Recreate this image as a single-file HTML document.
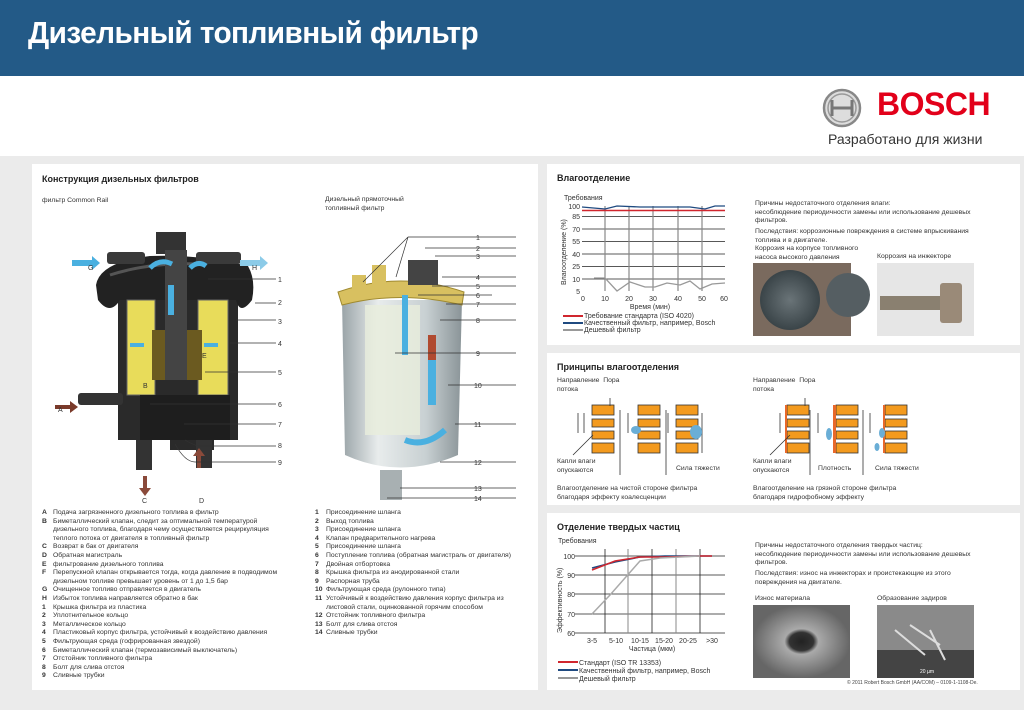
<!DOCTYPE html>
<html><head><meta charset="utf-8"><style>
*{margin:0;padding:0;box-sizing:border-box}
body{width:1024px;height:710px;overflow:hidden;background:#ebebeb;font-family:"Liberation Sans",sans-serif;position:relative;color:#333}
.a{position:absolute;white-space:nowrap}
.t{font-size:6.8px;line-height:8.6px;color:#333}
.h{font-weight:bold;font-size:9px;color:#222}
.p{position:absolute;background:#fff}
</style></head><body>
<div class="p" style="left:0;top:0;width:1024px;height:76px;background:#235a87"></div>
<div class="a" style="left:28px;top:15px;font-size:31px;font-weight:bold;color:#fff;letter-spacing:-0.6px;transform:scaleX(0.96);transform-origin:left">Дизельный топливный фильтр</div>
<div class="p" style="left:0;top:76px;width:1024px;height:80px"></div>
<svg class="a" style="left:822px;top:88px" width="40" height="40" viewBox="0 0 40 40"><circle cx="20" cy="20" r="18" fill="#ddd" stroke="#888" stroke-width="2.5"/><circle cx="20" cy="20" r="14" fill="none" stroke="#999" stroke-width="1.5"/><path d="M10 12v16M30 12v16M10 20h20" stroke="#777" stroke-width="3" fill="none"/></svg>
<div class="a" style="left:877px;top:86px;font-size:32px;font-weight:bold;color:#e2001a;letter-spacing:-0.5px">BOSCH</div>
<div class="a" style="left:828px;top:131px;font-size:14px;color:#333">Разработано для жизни</div>

<div class="p" style="left:32px;top:164px;width:506px;height:526px"></div>
<div class="a h" style="left:42px;top:174px">Конструкция дизельных фильтров</div>
<div class="a t" style="left:42px;top:197px">фильтр Common Rail</div>
<div class="a t" style="left:325px;top:196px">Дизельный прямоточный<br>топливный фильтр</div>

<svg class="a" style="left:32px;top:220px" width="506" height="290" viewBox="32 220 506 290">
<path d="M118 300 L238 300 L238 440 L214 440 L214 450 L170 450 L170 440 L118 440Z" fill="#2a2a2a"/>
<path d="M96 285 Q100 262 150 256 Q200 254 248 266 Q256 280 252 300 Q240 316 236 300 L120 300 Q110 316 98 300Z" fill="#222"/>
<path d="M110 275 Q150 262 200 264" stroke="#555" stroke-width="3" fill="none"/>
<rect x="156" y="232" width="30" height="22" fill="#333"/>
<rect x="107" y="252" width="38" height="12" rx="3" fill="#3a3a3a"/>
<rect x="196" y="252" width="45" height="12" rx="3" fill="#3a3a3a"/>
<rect x="78" y="393" width="45" height="12" rx="3" fill="#333"/>
<rect x="127" y="300" width="28" height="95" fill="#e8dc5a" stroke="#666"/>
<rect x="198" y="300" width="30" height="95" fill="#e8dc5a" stroke="#666"/>
<rect x="152" y="330" width="50" height="50" fill="#6b5a20"/>
<rect x="165" y="250" width="22" height="130" fill="#444"/>
<rect x="140" y="395" width="90" height="45" fill="#1e1e1e"/>
<rect x="136" y="440" width="16" height="30" fill="#333"/>
<rect x="196" y="440" width="16" height="28" fill="#333"/>
<path d="M72 260h20v-4l8 7-8 7v-4h-20z" fill="#4ab0e0"/>
<path d="M240 260h20v-4l8 7-8 7v-4h-20z" fill="#8ccbe8"/>
<path d="M55 405h15v-4l8 6-8 6v-4h-15z" fill="#7a3a2a"/>
<path d="M143 476v12h-4l6 8 6-8h-4v-12z" fill="#8a4a3a"/>
<path d="M197 468v-12h-4l6-8 6 8h-4v12z" fill="#8a4a3a"/>
<rect x="168" y="285" width="6" height="30" fill="#4ab0e0"/>
<path d="M150 268q10-10 22-4" stroke="#4ab0e0" stroke-width="5" fill="none"/>
<path d="M190 268q8-8 16-2" stroke="#4ab0e0" stroke-width="5" fill="none"/>
<path d="M130 345h14M218 345h-14" stroke="#4ab0e0" stroke-width="4"/>
<g font-size="7" fill="#333"><text x="88" y="270">G</text><text x="252" y="270">H</text><text x="58" y="412">A</text><text x="142" y="503">C</text><text x="199" y="503">D</text><text x="143" y="388">B</text><text x="202" y="358">E</text></g>
<g stroke="#333" stroke-width="0.7" fill="none"><path d="M208 279h68M255 303h21M236 320h40M230 343h46M205 372h71M150 404h126M184 424h92M185 440q10 6 15 6h76M175 444q10 18 20 18h81"/></g>
<g font-size="7" fill="#333"><text x="278" y="282">1</text><text x="278" y="305">2</text><text x="278" y="324">3</text><text x="278" y="346">4</text><text x="278" y="375">5</text><text x="278" y="407">6</text><text x="278" y="427">7</text><text x="278" y="448">8</text><text x="278" y="465">9</text></g>
<defs><linearGradient id="cy" x1="0" x2="1"><stop offset="0" stop-color="#9aa4a8"/><stop offset="0.3" stop-color="#e8ecec"/><stop offset="0.7" stop-color="#c8d0d2"/><stop offset="1" stop-color="#8a9498"/></linearGradient></defs>
<path d="M342 300 L345 455 Q400 480 458 455 L462 300Z" fill="url(#cy)"/>
<path d="M338 292 Q400 270 464 292 L462 305 Q400 290 342 305Z" fill="#d8c060" stroke="#a08a30"/>
<rect x="365" y="305" width="55" height="130" fill="#e8eedc" opacity="0.8"/>
<rect x="402" y="295" width="6" height="60" fill="#4ab0e0"/>
<rect x="428" y="335" width="8" height="55" fill="#b04a30"/>
<rect x="428" y="360" width="8" height="45" fill="#4ab0e0"/>
<path d="M405 440q20 8 40-10" stroke="#4ab0e0" stroke-width="6" fill="none"/>
<rect x="408" y="260" width="30" height="25" fill="#444"/>
<rect x="372" y="265" width="14" height="30" fill="#d8c060"/>
<rect x="352" y="275" width="14" height="20" fill="#d8c060"/>
<rect x="380" y="470" width="22" height="30" fill="#a8b0b2"/>
<g stroke="#333" stroke-width="0.7" fill="none"><path d="M408 237h108M408 237l-45 45M408 237l-12 40M425 248h91M435 256h81M442 277h74M432 286h84M418 295h74M446 304h70M440 320h76M395 353h121M448 385h68M455 424h61M440 462h76M400 488h116M387 498h129"/></g>
<g font-size="7" fill="#333"><text x="476" y="240">1</text><text x="476" y="251">2</text><text x="476" y="259">3</text><text x="476" y="280">4</text><text x="476" y="289">5</text><text x="476" y="298">6</text><text x="476" y="307">7</text><text x="476" y="323">8</text><text x="476" y="356">9</text><text x="474" y="388">10</text><text x="474" y="427">11</text><text x="474" y="465">12</text><text x="474" y="491">13</text><text x="474" y="501">14</text></g>
</svg>

<div class="a t" style="left:42px;top:509px"><b>A</b><br><b>B</b><br><br><br><b>C</b><br><b>D</b><br><b>E</b><br><b>F</b><br><br><b>G</b><br><b>H</b><br><b>1</b><br><b>2</b><br><b>3</b><br><b>4</b><br><b>5</b><br><b>6</b><br><b>7</b><br><b>8</b><br><b>9</b></div>
<div class="a t" style="left:53px;top:509px">Подача загрязненного дизельного топлива в фильтр<br>Биметаллический клапан, следит за оптимальной температурой<br>дизельного топлива, благодаря чему осуществляется рециркуляция<br>теплого потока от двигателя в топливный фильтр<br>Возврат в бак от двигателя<br>Обратная магистраль<br>фильтрование дизельного топлива<br>Перепускной клапан открывается тогда, когда давление в подводимом<br>дизельном топливе превышает уровень от 1 до 1,5 бар<br>Очищенное топливо отправляется в двигатель<br>Избыток топлива направляется обратно в бак<br>Крышка фильтра из пластика<br>Уплотнительное кольцо<br>Металлическое кольцо<br>Пластиковый корпус фильтра, устойчивый к воздействию давления<br>Фильтрующая среда (гофрированная звездой)<br>Биметаллический клапан (термозависимый выключатель)<br>Отстойник топливного фильтра<br>Болт для слива отстоя<br>Сливные трубки</div>
<div class="a t" style="left:315px;top:509px"><b>1</b><br><b>2</b><br><b>3</b><br><b>4</b><br><b>5</b><br><b>6</b><br><b>7</b><br><b>8</b><br><b>9</b><br><b>10</b><br><b>11</b><br><br><b>12</b><br><b>13</b><br><b>14</b></div>
<div class="a t" style="left:326px;top:509px">Присоединение шланга<br>Выход топлива<br>Присоединение шланга<br>Клапан предварительного нагрева<br>Присоединение шланга<br>Поступление топлива (обратная магистраль от двигателя)<br>Двойная отбортовка<br>Крышка фильтра из анодированной стали<br>Распорная труба<br>Фильтрующая среда (рулонного типа)<br>Устойчивый к воздействию давления корпус фильтра из<br>листовой стали, оцинкованной горячим способом<br>Отстойник топливного фильтра<br>Болт для слива отстоя<br>Сливные трубки</div>

<div class="p" style="left:547px;top:164px;width:473px;height:181px"></div>
<div class="a h" style="left:557px;top:173px">Влагоотделение</div>
<svg class="a" style="left:547px;top:164px" width="473" height="181" viewBox="547 164 473 181">
<text x="564" y="200" font-size="7" fill="#333">Требования</text>
<g stroke="#222" stroke-width="0.8"><path d="M582 216.5h143M582 229h143M582 241.5h143M582 254h143M582 266.5h143M582 279h143"/></g>
<g stroke="#888" stroke-width="1.2"><path d="M605 206v85M629 206v85M653 206v85M678 206v85M702 206v85"/></g>
<path d="M582 210.5h143" stroke="#d0262e" stroke-width="1.5"/>
<path d="M582 207 L605 209 L617 206 L640 207 L665 207 L690 207 L705 209 L715 206 L725 206" stroke="#1f4a80" stroke-width="1.3" fill="none"/>
<path d="M594 278 L605 278 L617 291 L630 282 L645 287 L655 287 L667 283 L680 285 L690 281 L700 289 L712 284 L725 283" stroke="#999" stroke-width="1.3" fill="none"/>
<g font-size="7" fill="#333" text-anchor="end"><text x="580" y="209">100</text><text x="580" y="219">85</text><text x="580" y="232">70</text><text x="580" y="244">55</text><text x="580" y="257">40</text><text x="580" y="269">25</text><text x="580" y="282">10</text><text x="580" y="294">5</text></g>
<g font-size="7" fill="#333" text-anchor="middle"><text x="583" y="301">0</text><text x="605" y="301">10</text><text x="629" y="301">20</text><text x="653" y="301">30</text><text x="678" y="301">40</text><text x="702" y="301">50</text><text x="724" y="301">60</text><text x="650" y="309">Время (мин)</text></g>
<text x="566" y="285" font-size="7" fill="#333" transform="rotate(-90 566 285)">Влагоотделение (%)</text>
<path d="M563 316h20" stroke="#d0262e" stroke-width="2"/><path d="M563 323h20" stroke="#1f4a80" stroke-width="2"/><path d="M563 330h20" stroke="#999" stroke-width="2"/>
<g font-size="7" fill="#333"><text x="584" y="318">Требование стандарта (ISO 4020)</text><text x="584" y="325">Качественный фильтр, например, Bosch</text><text x="584" y="332">Дешевый фильтр</text></g>
<defs><radialGradient id="m1"><stop offset="0" stop-color="#6a7478"/><stop offset="1" stop-color="#3a4448"/></radialGradient></defs>
<rect x="753" y="263" width="98" height="73" fill="#7a6a5e"/>
<circle cx="790" cy="300" r="30" fill="url(#m1)"/><circle cx="848" cy="295" r="22" fill="#555e62"/>
<rect x="877" y="263" width="97" height="73" fill="#e6e6e6"/>
<rect x="880" y="296" width="60" height="14" fill="#8a8070"/><rect x="940" y="283" width="22" height="40" rx="3" fill="#9a8a78"/>
</svg>
<div class="a t" style="left:755px;top:200px">Причины недостаточного отделения влаги:<br>несоблюдение периодичности замены или использование дешевых<br>фильтров.</div>
<div class="a t" style="left:755px;top:228px">Последствия: коррозионные повреждения в системе впрыскивания<br>топлива и в двигателе.</div>
<div class="a t" style="left:755px;top:245px">Коррозия на корпусе топливного<br>насоса высокого давления</div>
<div class="a t" style="left:877px;top:253px">Коррозия на инжекторе</div>

<div class="p" style="left:547px;top:353px;width:473px;height:152px"></div>
<div class="a h" style="left:557px;top:362px">Принципы влагоотделения</div>
<div class="a t" style="left:557px;top:377px">Направление&nbsp; Пора<br>потока</div>
<div class="a t" style="left:753px;top:377px">Направление&nbsp; Пора<br>потока</div>
<svg class="a" style="left:547px;top:353px" width="473" height="152" viewBox="547 353 473 152">
<g fill="#f39a1e" stroke="#333" stroke-width="0.8">
<rect x="592" y="405" width="22" height="10"/><rect x="592" y="419" width="22" height="8"/><rect x="592" y="431" width="22" height="8"/><rect x="592" y="443" width="22" height="10"/>
<rect x="638" y="405" width="22" height="10"/><rect x="638" y="419" width="22" height="8"/><rect x="638" y="431" width="22" height="8"/><rect x="638" y="443" width="22" height="10"/>
<rect x="676" y="405" width="22" height="10"/><rect x="676" y="419" width="22" height="8"/><rect x="676" y="431" width="22" height="8"/><rect x="676" y="443" width="22" height="10"/>
<rect x="787" y="405" width="22" height="10"/><rect x="787" y="419" width="22" height="8"/><rect x="787" y="431" width="22" height="8"/><rect x="787" y="443" width="22" height="10"/>
<rect x="836" y="405" width="22" height="10"/><rect x="836" y="419" width="22" height="8"/><rect x="836" y="431" width="22" height="8"/><rect x="836" y="443" width="22" height="10"/>
<rect x="885" y="405" width="22" height="10"/><rect x="885" y="419" width="22" height="8"/><rect x="885" y="431" width="22" height="8"/><rect x="885" y="443" width="22" height="10"/>
</g>
<g fill="#e8682a"><rect x="785" y="405" width="2" height="48"/><rect x="833" y="405" width="3" height="48"/><rect x="883" y="405" width="2" height="48"/></g>
<g stroke="#333" stroke-width="0.8" fill="none"><path d="M620 410v65M666 410v65M810 410v65M863 410v65M610 398v8M805 398v8M578 413v20M584 413v20M628 413v20M668 413v20M780 413v20M818 413v20M870 413v20M702 413v40M573 455l20-20M770 455l20-20"/></g>
<g fill="#6aaed6"><ellipse cx="636" cy="430" rx="5" ry="4"/><ellipse cx="696" cy="432" rx="6" ry="7"/><ellipse cx="829" cy="434" rx="3" ry="6"/><ellipse cx="882" cy="433" rx="3" ry="5"/><ellipse cx="877" cy="447" rx="2.5" ry="4"/></g>
</svg>
<div class="a t" style="left:557px;top:458px">Капли влаги<br>опускаются</div>
<div class="a t" style="left:676px;top:465px">Сила тяжести</div>
<div class="a t" style="left:753px;top:458px">Капли влаги<br>опускаются</div>
<div class="a t" style="left:818px;top:465px">Плотность</div>
<div class="a t" style="left:875px;top:465px">Сила тяжести</div>
<div class="a t" style="left:557px;top:485px">Влагоотделение на чистой стороне фильтра<br>благодаря эффекту коалесценции</div>
<div class="a t" style="left:753px;top:485px">Влагоотделение на грязной стороне фильтра<br>благодаря гидрофобному эффекту</div>

<div class="p" style="left:547px;top:513px;width:473px;height:177px"></div>
<div class="a h" style="left:557px;top:522px">Отделение твердых частиц</div>
<svg class="a" style="left:547px;top:513px" width="473" height="177" viewBox="547 513 473 177">
<text x="558" y="543" font-size="7" fill="#333">Требования</text>
<g stroke="#222" stroke-width="0.8"><path d="M575 556h150M575 575h150M575 594h150M575 614h150M575 633h150M605 549v84M652 549v84M700 549v84"/></g>
<g stroke="#888" stroke-width="1"><path d="M628 549v84M676 549v84"/></g>
<path d="M592 568 L615 562 L640 557 L665 556 L700 556 L712 556" stroke="#1f4a80" stroke-width="1.5" fill="none"/>
<path d="M592 570 L615 561 L640 557 L665 557 L700 556 L712 556" stroke="#d0262e" stroke-width="1.5" fill="none"/>
<path d="M592 614 L610 595 L640 561 L660 558 L700 556" stroke="#aaa" stroke-width="1.5" fill="none"/>
<g font-size="7" fill="#333" text-anchor="end"><text x="575" y="559">100</text><text x="575" y="578">90</text><text x="575" y="597">80</text><text x="575" y="617">70</text><text x="575" y="636">60</text></g>
<g font-size="7" fill="#333" text-anchor="middle"><text x="592" y="643">3-5</text><text x="616" y="643">5-10</text><text x="640" y="643">10-15</text><text x="664" y="643">15-20</text><text x="688" y="643">20-25</text><text x="712" y="643">&gt;30</text><text x="652" y="651">Частица (мкм)</text></g>
<text x="562" y="633" font-size="7" fill="#333" transform="rotate(-90 562 633)">Эффективность (%)</text>
<path d="M558 662h20" stroke="#d0262e" stroke-width="2"/><path d="M558 670h20" stroke="#1f4a80" stroke-width="2"/><path d="M558 678h20" stroke="#999" stroke-width="2"/>
<g font-size="7" fill="#333"><text x="579" y="665">Стандарт (ISO TR 13353)</text><text x="579" y="673">Качественный фильтр, например, Bosch</text><text x="579" y="681">Дешевый фильтр</text></g>
<defs><radialGradient id="m2"><stop offset="0" stop-color="#222"/><stop offset="0.25" stop-color="#333"/><stop offset="0.35" stop-color="#aaa"/><stop offset="1" stop-color="#666"/></radialGradient></defs>
<rect x="753" y="605" width="97" height="73" fill="url(#m2)"/>
<rect x="877" y="605" width="97" height="73" fill="#8a8a8a"/>
<rect x="877" y="650" width="97" height="28" fill="#444"/>
<path d="M895 630l30 25M910 625l30 20M930 630l15 30" stroke="#ddd" stroke-width="2"/>
<text x="920" y="673" font-size="5" fill="#fff">20 µm</text>
</svg>
<div class="a t" style="left:755px;top:542px">Причины недостаточного отделения твердых частиц:<br>несоблюдение периодичности замены или использование дешевых<br>фильтров.</div>
<div class="a t" style="left:755px;top:570px">Последствия: износ на инжекторах и проистекающие из этого<br>повреждения на двигателе.</div>
<div class="a t" style="left:755px;top:595px">Износ материала</div>
<div class="a t" style="left:877px;top:595px">Образование задиров</div>
<div class="a" style="left:847px;top:680px;font-size:5px;color:#444">© 2011 Robert Bosch GmbH (AA/COM) – 0109-1-1108-De.</div>
</body></html>
